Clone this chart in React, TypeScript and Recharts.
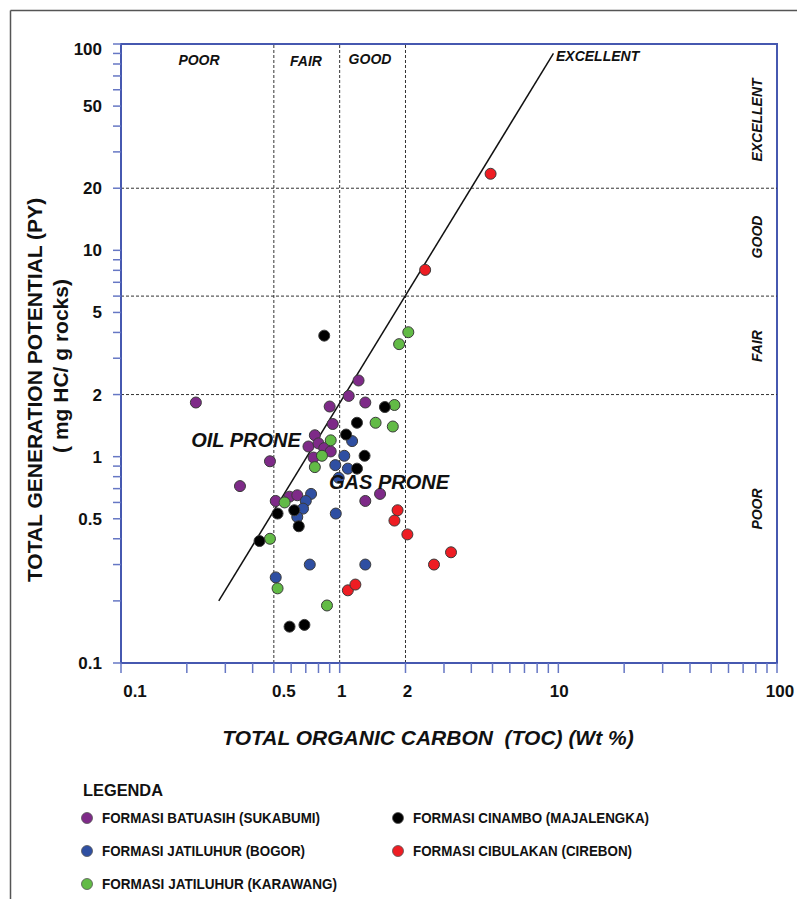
import React from 'react';
import {
  ScatterChart,
  Scatter,
  XAxis,
  YAxis,
  ReferenceLine,
  ReferenceArea,
} from 'recharts';

// TOC (wt %) vs total generation potential PY (mg HC / g rock)
const batuasihData = [
  [0.22, 1.83], [1.22, 2.34], [1.1, 1.97], [0.9, 1.75], [1.31, 1.83], [0.93, 1.44],
  [0.77, 1.27], [0.72, 1.12], [0.8, 1.16], [0.85, 1.1], [0.91, 1.06], [0.76, 0.99],
  [0.48, 0.95], [0.35, 0.72], [0.51, 0.61], [0.59, 0.64], [0.64, 0.65], [1.31, 0.61],
  [1.53, 0.66],
];
const bogorData = [
  [1.14, 1.19], [1.05, 1.01], [0.955, 0.91], [1.09, 0.875], [0.99, 0.79], [0.74, 0.66],
  [0.7, 0.61], [0.68, 0.56], [0.64, 0.51], [0.96, 0.53], [0.73, 0.3], [1.31, 0.3],
  [0.51, 0.26],
];
const karawangData = [
  [2.06, 4.01], [1.87, 3.51], [1.78, 1.78], [1.46, 1.46], [1.75, 1.4], [0.91, 1.2],
  [0.83, 1.01], [0.77, 0.89], [0.56, 0.6], [0.48, 0.4], [0.52, 0.23], [0.875, 0.19],
];
const cinamboData = [
  [0.85, 3.86], [1.61, 1.74], [1.2, 1.46], [1.07, 1.28], [1.3, 1.01], [1.2, 0.875],
  [0.52, 0.53], [0.62, 0.55], [0.65, 0.46], [0.43, 0.39], [0.59, 0.15], [0.69, 0.153],
];
const cibulakanData = [
  [4.9, 23.5], [2.46, 8.04], [1.84, 0.55], [1.78, 0.49], [2.04, 0.42], [3.23, 0.344],
  [2.7, 0.3], [1.09, 0.225], [1.18, 0.24],
];

const xTicks = [
  0.1, 0.2, 0.3, 0.4, 0.5, 0.6, 0.7, 0.8, 0.9, 1, 2, 3, 4, 5, 6, 7, 8, 9, 10,
  20, 30, 40, 50, 60, 70, 80, 90, 100,
];
const yTicks = xTicks;
const xLabels = [0.1, 0.5, 1, 2, 10, 100];
const yLabels = [0.1, 0.5, 1, 2, 5, 10, 20, 50, 100];

// TOC class boundaries and PY class boundaries
const tocLimits = [0.5, 1, 2];
const pyLimits = [2, 6, 20];
const pronenessLine = [{ x: 0.28, y: 0.2 }, { x: 9.5, y: 90 }];

const series = [
  { name: 'FORMASI BATUASIH (SUKABUMI)', data: batuasihData, color: '#7e2a88' },
  { name: 'FORMASI JATILUHUR (BOGOR)', data: bogorData, color: '#2f4fa2' },
  { name: 'FORMASI JATILUHUR (KARAWANG)', data: karawangData, color: '#62bb46' },
  { name: 'FORMASI CINAMBO (MAJALENGKA)', data: cinamboData, color: '#000000' },
  { name: 'FORMASI CIBULAKAN (CIREBON)', data: cibulakanData, color: '#ee1d23' },
];
// legend text widths (the original uses a condensed face)
const legendWidths = [218, 203, 235, 236, 219];

const AXIS_BLUE = '#4658b0';
const TICK_BLUE = '#6677c4';
const FONT = '"Liberation Sans", Arial, sans-serif';

const xShift: Record<number, number> = { 0.1: 14, 0.5: 10, 1: 2, 2: 2, 10: 1, 100: 3 };

const XTick = (props: any) => {
  const { x, y, payload } = props;
  if (!xLabels.includes(payload.value)) return <g />;
  return (
    <text x={x + (xShift[payload.value] ?? 0)} y={y + 20} textAnchor="middle"
      fontFamily={FONT} fontWeight="bold" fontSize={17} fill="#111">
      {payload.value}
    </text>
  );
};

const YTick = (props: any) => {
  const { x, y, payload } = props;
  if (!yLabels.includes(payload.value)) return <g />;
  return (
    <text x={x} y={y + 6 + (payload.value === 100 ? 5 : 0)} textAnchor="end"
      fontFamily={FONT} fontWeight="bold" fontSize={17} fill="#111">
      {payload.value}
    </text>
  );
};

const Dot = (color: string) => (props: any) => (
  <circle cx={props.cx} cy={props.cy} r={5.5} fill={color} stroke="#3a3a3a" strokeWidth={1} />
);

const zoneText = {
  fontFamily: FONT,
  fontWeight: 'bold' as const,
  fontStyle: 'italic' as const,
  fontSize: 14,
  fill: '#111',
};

export default function App() {
  return (
    <div style={{ position: 'absolute', left: 0, top: 0, width: 797, height: 899, background: '#fff' }}>
      <ScatterChart width={797} height={899} margin={{ top: 44, right: 20, bottom: 186, left: 61 }}>
        <XAxis type="number" dataKey="toc" scale="log" domain={[0.1, 100]} allowDataOverflow
          ticks={xTicks} interval={0} height={50} tickSize={10} tickMargin={4}
          axisLine={{ stroke: AXIS_BLUE, strokeWidth: 2 }} tickLine={{ stroke: TICK_BLUE, strokeWidth: 1.5 }}
          tick={XTick} />
        <YAxis type="number" dataKey="py" scale="log" domain={[0.1, 100]} allowDataOverflow
          ticks={yTicks} interval={0} width={60} tickSize={8} tickMargin={11}
          axisLine={{ stroke: AXIS_BLUE, strokeWidth: 2 }} tickLine={{ stroke: TICK_BLUE, strokeWidth: 1.5 }}
          tick={YTick} />
        <ReferenceArea x1={0.1} x2={100} y1={0.1} y2={100} fill="none"
          stroke={AXIS_BLUE} strokeWidth={2} ifOverflow="visible" />
        {tocLimits.map((v) => (
          <ReferenceLine key={`x${v}`} x={v} stroke="#333" strokeDasharray="3 2" strokeWidth={1} />
        ))}
        {pyLimits.map((v) => (
          <ReferenceLine key={`y${v}`} y={v} stroke="#333" strokeDasharray="3 2" strokeWidth={1} />
        ))}
        <ReferenceLine segment={pronenessLine} stroke="#111" strokeWidth={1.5} ifOverflow="visible" />
        {series.map((s) => (
          <Scatter key={s.name} name={s.name}
            data={s.data.map(([toc, py]) => ({ toc, py }))}
            shape={Dot(s.color)} isAnimationActive={false} />
        ))}
      </ScatterChart>

      <svg width={797} height={899} style={{ position: 'absolute', left: 0, top: 0, pointerEvents: 'none' }}>
        {/* outer figure frame */}
        <line x1={10.5} y1={10.5} x2={797} y2={10.5} stroke="#555" strokeWidth={1.5} />
        <line x1={10.5} y1={10.5} x2={10.5} y2={899} stroke="#555" strokeWidth={1.5} />

        {/* class labels */}
        <text x={199} y={65} textAnchor="middle" {...zoneText}>POOR</text>
        <text x={306} y={66} textAnchor="middle" {...zoneText}>FAIR</text>
        <text x={370} y={64} textAnchor="middle" {...zoneText}>GOOD</text>
        <text x={556} y={61} textAnchor="start" {...zoneText}>EXCELLENT</text>
        <text transform="translate(762,120) rotate(-90)" textAnchor="middle" {...zoneText}>EXCELLENT</text>
        <text transform="translate(762,237) rotate(-90)" textAnchor="middle" {...zoneText}>GOOD</text>
        <text transform="translate(762,346) rotate(-90)" textAnchor="middle" {...zoneText}>FAIR</text>
        <text transform="translate(762,509) rotate(-90)" textAnchor="middle" {...zoneText}>POOR</text>

        <text x={246} y={447} textAnchor="middle" {...zoneText} fontSize={20}>OIL PRONE</text>
        <text x={389} y={489} textAnchor="middle" {...zoneText} fontSize={20}>GAS PRONE</text>

        {/* axis titles */}
        <text x={428} y={745} textAnchor="middle" {...zoneText} fontSize={21} style={{ whiteSpace: 'pre' }}>
          {'TOTAL ORGANIC CARBON  (TOC) (Wt %)'}
        </text>
        <text transform="translate(42,390) rotate(-90)" textAnchor="middle"
          fontFamily={FONT} fontWeight="bold" fontSize={21} fill="#111">
          TOTAL GENERATION POTENTIAL (PY)
        </text>
        <text transform="translate(68,366) rotate(-90)" textAnchor="middle"
          fontFamily={FONT} fontWeight="bold" fontSize={21} fill="#111">
          ( mg HC/ g rocks)
        </text>

        {/* legend */}
        <text x={83} y={796} fontFamily={FONT} fontWeight="bold" fontSize={17} fill="#111"
          textLength={80} lengthAdjust="spacingAndGlyphs">LEGENDA</text>
        {series.map((s, i) => {
          const col = i < 3 ? 0 : 1;
          const row = i < 3 ? i : i - 3;
          const cx = col === 0 ? 87 : 398;
          const cy = 818 + row * 33;
          return (
            <g key={s.name}>
              <circle cx={cx} cy={cy} r={5.5} fill={s.color} stroke="#555" strokeWidth={0.8} />
              <text x={cx + 15} y={cy + 5} fontFamily={FONT} fontWeight="bold" fontSize={15} fill="#111"
                textLength={legendWidths[i]} lengthAdjust="spacingAndGlyphs">
                {s.name}
              </text>
            </g>
          );
        })}
      </svg>
    </div>
  );
}
